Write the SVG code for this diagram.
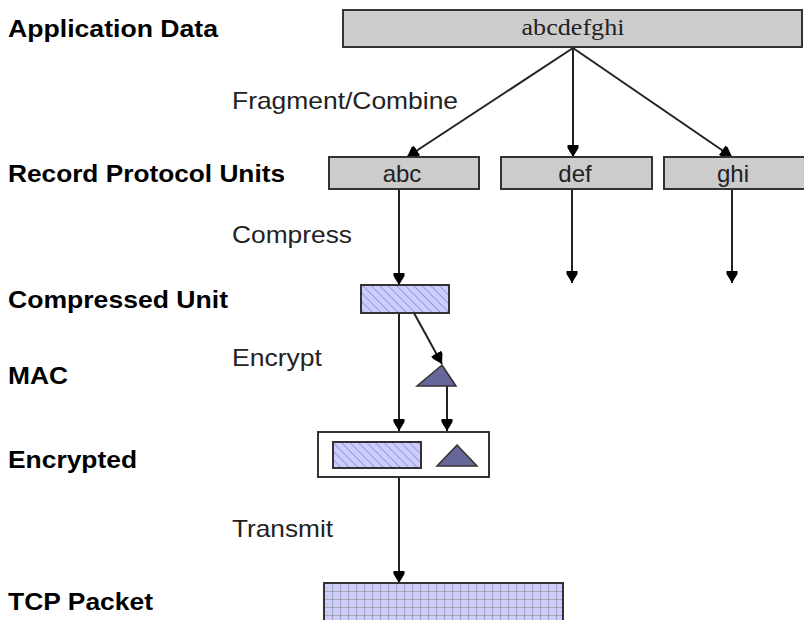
<svg xmlns="http://www.w3.org/2000/svg" width="804" height="620" viewBox="0 0 804 620">
<defs>
<marker id="ah" markerWidth="13" markerHeight="13" viewBox="0 0 13 13" refX="12" refY="6.5" orient="auto" markerUnits="userSpaceOnUse">
<path d="M0,1 L3,1 L12,6.5 L3,12 L0,12 Z" fill="#000"/>
</marker>
<pattern id="hatch" width="6" height="6" patternUnits="userSpaceOnUse" patternTransform="rotate(-45)">
<rect width="6" height="6" fill="#ccccff"/>
<line x1="0" y1="0" x2="0" y2="6" stroke="#8f8fc0" stroke-width="1.6"/>
</pattern>
<pattern id="grid" x="324" y="583" width="8" height="8" patternUnits="userSpaceOnUse">
<rect width="8" height="8" fill="#ccccff"/>
<path d="M0,0 H8 M0,0 V8" stroke="#9a9aa8" stroke-width="1.6"/>
</pattern>
<style>
.lbl{font-family:"Liberation Sans",Arial,sans-serif;font-size:24px;font-weight:bold;fill:#000}
.op{font-family:"Liberation Sans",Arial,sans-serif;font-size:24px;fill:#222}
.box{fill:#cccccc;stroke:#333;stroke-width:2}
.bt{font-family:"Liberation Sans",Arial,sans-serif;font-size:24px;fill:#222;text-anchor:middle}
.con{stroke:#222;stroke-width:2;fill:none;marker-end:url(#ah)}
.tri{fill:#666699;stroke:#333;stroke-width:1.5}
</style>
</defs>
<g id="labels">
<text class="lbl" x="8" y="37" textLength="210" lengthAdjust="spacingAndGlyphs">Application Data</text>
<text class="lbl" x="8" y="182" textLength="277" lengthAdjust="spacingAndGlyphs">Record Protocol Units</text>
<text class="lbl" x="8" y="308" textLength="220" lengthAdjust="spacingAndGlyphs">Compressed Unit</text>
<text class="lbl" x="8" y="384" textLength="60" lengthAdjust="spacingAndGlyphs">MAC</text>
<text class="lbl" x="8" y="468" textLength="129" lengthAdjust="spacingAndGlyphs">Encrypted</text>
<text class="lbl" x="8" y="610" textLength="145" lengthAdjust="spacingAndGlyphs">TCP Packet</text>
<text class="op" x="232" y="109" textLength="226" lengthAdjust="spacingAndGlyphs">Fragment/Combine</text>
<text class="op" x="232" y="243" textLength="120" lengthAdjust="spacingAndGlyphs">Compress</text>
<text class="op" x="232" y="366" textLength="90" lengthAdjust="spacingAndGlyphs">Encrypt</text>
<text class="op" x="232" y="537" textLength="101" lengthAdjust="spacingAndGlyphs">Transmit</text>
</g>
<g id="connectors">
<line class="con" x1="573" y1="48" x2="407" y2="157"/>
<line class="con" x1="573" y1="48" x2="573" y2="157"/>
<line class="con" x1="573" y1="48" x2="732" y2="157"/>
<line class="con" x1="399" y1="189" x2="399" y2="285"/>
<line class="con" x1="572" y1="189" x2="572" y2="283"/>
<line class="con" x1="732" y1="189" x2="732" y2="283"/>
<line class="con" x1="414" y1="313" x2="442" y2="364"/>
<line class="con" x1="399" y1="313" x2="399" y2="431"/>
<line class="con" x1="447" y1="386" x2="447" y2="431"/>
<line class="con" x1="399" y1="477" x2="399" y2="583"/>
</g>
<g id="app-data">
<rect class="box" x="343" y="10" width="459" height="37"/>
<text x="573" y="35" text-anchor="middle" font-family="Liberation Serif,'Times New Roman',serif" font-size="23" fill="#222" textLength="103" lengthAdjust="spacingAndGlyphs">abcdefghi</text>
</g>
<g id="rec-abc">
<rect class="box" x="329" y="157" width="150" height="32"/>
<text class="bt" x="402" y="182">abc</text>
</g>
<g id="rec-def">
<rect class="box" x="501" y="157" width="151" height="32"/>
<text class="bt" x="575" y="182">def</text>
</g>
<g id="rec-ghi">
<rect class="box" x="664" y="157" width="150" height="32"/>
<text class="bt" x="733" y="182">ghi</text>
</g>
<g id="compressed">
<rect x="361" y="285" width="88" height="28" fill="url(#hatch)" stroke="#333" stroke-width="2"/>
</g>
<g id="mac">
<polygon class="tri" points="442,365 456,386 417,386"/>
</g>
<g id="encrypted">
<rect x="318" y="432" width="171" height="45" fill="#fff" stroke="#333" stroke-width="2"/>
<rect x="333" y="442" width="88" height="26" fill="url(#hatch)" stroke="#333" stroke-width="2"/>
<polygon class="tri" points="457,445 477,466 437,466"/>
</g>
<g id="tcp">
<rect x="324" y="583" width="239" height="45" fill="url(#grid)" stroke="#333" stroke-width="2"/>
</g>
</svg>
